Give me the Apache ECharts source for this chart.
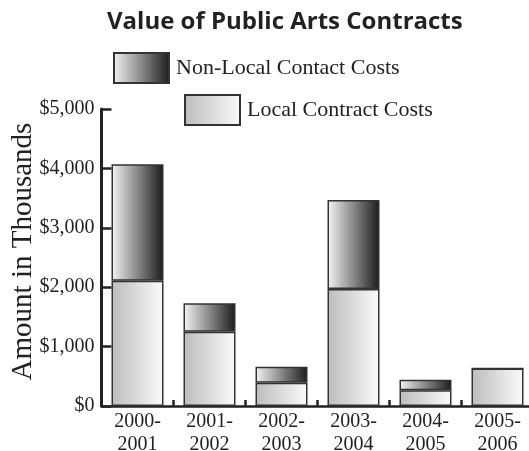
<!DOCTYPE html>
<html>
<head>
<meta charset="utf-8">
<script src="https://cdn.jsdelivr.net/npm/echarts@6/dist/echarts.min.js"></script>
<style>html,body{margin:0;padding:0;background:#fff}#c{width:529px;height:451px}</style>
</head>
<body>
<div id="c"></div>
<script>
const categories = ['2000-\n2001', '2001-\n2002', '2002-\n2003', '2003-\n2004', '2004-\n2005', '2005-\n2006'];
const localCosts = [2110, 1250, 390, 1970, 265, 630];
const nonLocalCosts = [1960, 480, 270, 1500, 175, 0];
const yTicks = { min: 0, max: 5000, interval: 1000 };
const seriesNames = ['Local Contract Costs', 'Non-Local Contact Costs'];

const serif = 'Liberation Serif';
const ink = '#222';
const chart = echarts.init(document.getElementById('c'), null, { renderer: 'canvas' });
const grad = (a, b) => new echarts.graphic.LinearGradient(0, 0, 1, 0, [{ offset: 0, color: a }, { offset: 1, color: b }]);

chart.setOption({
  animation: false,
  backgroundColor: '#fff',
  title: {
    text: 'Value of Public Arts Contracts',
    left: 102, top: 5,
    textStyle: { fontFamily: 'Open Sans', fontWeight: 'bold', fontSize: 24, color: '#222' }
  },
  legend: [
    {
      data: [seriesNames[1]], left: 113, top: 52, padding: 0,
      itemWidth: 55, itemHeight: 30, itemGap: 0, icon: 'rect',
      textStyle: { fontFamily: serif, fontSize: 22, color: ink, padding: [0, 0, 0, 2] }
    },
    {
      data: [seriesNames[0]], left: 184, top: 94, padding: 0,
      itemWidth: 55, itemHeight: 30, itemGap: 0, icon: 'rect',
      textStyle: { fontFamily: serif, fontSize: 22, color: ink, padding: [0, 0, 0, 2] }
    }
  ],
  grid: { left: 101.5, top: 109, width: 432, bottom: 45, containLabel: false, outerBoundsMode: 'none' },
  xAxis: {
    type: 'category',
    data: categories,
    axisLine: { lineStyle: { color: ink, width: 2.5 } },
    axisTick: { show: true, inside: true, length: 6, lineStyle: { color: ink, width: 2.5 } },
    axisLabel: { fontFamily: serif, fontSize: 20, color: ink, lineHeight: 23, margin: 4 }
  },
  yAxis: {
    type: 'value',
    min: yTicks.min, max: yTicks.max, interval: yTicks.interval,
    name: 'Amount in Thousands',
    nameLocation: 'middle', nameGap: 64, nameMoveOverlap: false,
    nameTextStyle: { fontFamily: serif, fontSize: 29, color: ink, padding: [0, 0, 0, 12] },
    axisLine: { show: true, lineStyle: { color: ink, width: 3 } },
    axisTick: { show: true, inside: true, length: 10, lineStyle: { color: ink, width: 2.5 } },
    splitLine: { show: false },
    axisLabel: {
      fontFamily: serif, fontSize: 20, color: ink, margin: 7,
      formatter: v => '$' + v.toLocaleString('en-US')
    }
  },
  series: [
    {
      name: seriesNames[0], type: 'bar', stack: 'total', barWidth: 52,
      data: localCosts,
      itemStyle: { color: grad('#bcbcbc', '#fbfbfb'), borderColor: '#333', borderWidth: 1.5 }
    },
    {
      name: seriesNames[1], type: 'bar', stack: 'total', barWidth: 52,
      data: nonLocalCosts,
      itemStyle: { color: grad('#f4f4f4', '#1c1c1c'), borderColor: '#333', borderWidth: 1.5 }
    }
  ]
});
</script>
</body>
</html>
